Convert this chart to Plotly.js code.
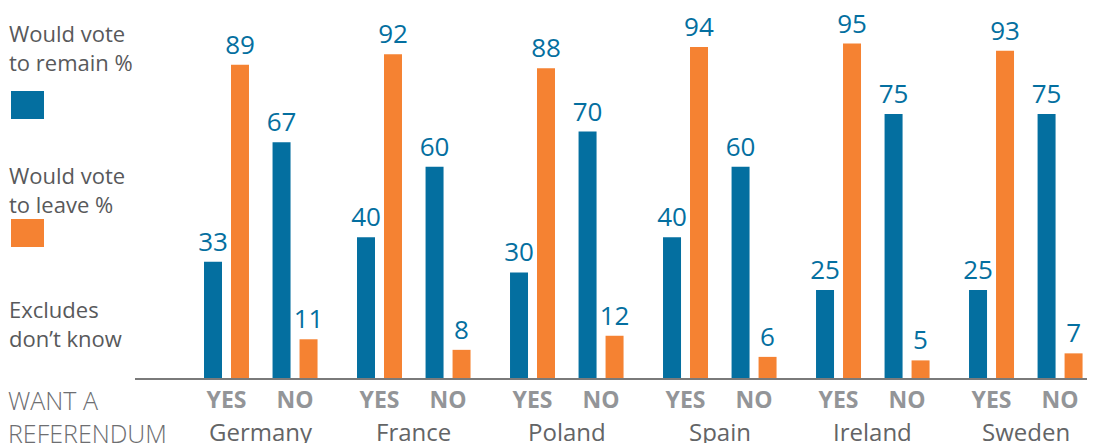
<!DOCTYPE html>
<html>
<head>
<meta charset="utf-8">
<script src="https://cdn.plot.ly/plotly-3.0.1.min.js"></script>
<style>html,body{margin:0;padding:0;background:#fff;}#chart{width:1097px;height:443px;}</style>
</head>
<body>
<div id="chart"></div>
<script>
// ---- data ----
var countries = ['Germany', 'France', 'Poland', 'Spain', 'Ireland', 'Sweden'];
var groups = ['YES', 'NO'];
var remainYes = [33, 40, 30, 40, 25, 25];
var leaveYes  = [89, 92, 88, 94, 95, 93];
var remainNo  = [67, 60, 70, 60, 75, 75];
var leaveNo   = [11, 8, 12, 6, 5, 7];

// ---- layout helpers ----
var W = 1097, H = 443;
var mL = 135, mR = 10, mT = 26, mB = 65;
var pw = W - mL - mR, ph = H - mT - mB;
function px(x) { return (x - mL) / pw; }
function py(y) { return (H - mB - y) / ph; }

var groupStep = 0.448;   // YES -> NO distance in country units
var barW = 0.1176;
var blue = '#046fa0', orange = '#f58232';

var xs = [], rem = [], lev = [], tickv = [], tickt = [];
for (var i = 0; i < countries.length; i++) {
  for (var j = 0; j < groups.length; j++) {
    var x = i + j * groupStep;
    xs.push(x);
    tickv.push(x);
    tickt.push(groups[j]);
    rem.push(j === 0 ? remainYes[i] : remainNo[i]);
    lev.push(j === 0 ? leaveYes[i] : leaveNo[i]);
  }
}

var labelFont = {family: 'Open Sans', size: 26, color: blue};
var traces = [
  {type: 'bar', name: 'Would vote to remain %', x: xs, y: rem, width: barW, offset: -0.147,
   marker: {color: blue}, text: rem.map(String), textposition: 'outside', textfont: labelFont,
   constraintext: 'none', cliponaxis: false, hoverinfo: 'y'},
  {type: 'bar', name: 'Would vote to leave %', x: xs, y: lev, width: barW, offset: 0.0294,
   marker: {color: orange}, text: lev.map(String), textposition: 'outside', textfont: labelFont,
   constraintext: 'none', cliponaxis: false, hoverinfo: 'y'}
];

var textGrey = '#58595b';
var annotations = [
  {text: 'Would vote<br>to remain %', x: px(7), y: py(16)},
  {text: 'Would vote<br>to leave %', x: px(7), y: py(158)},
  {text: 'Excludes<br>don\u2019t know', x: px(7), y: py(292)}
].map(function (a) {
  return {text: a.text, xref: 'paper', yref: 'paper', x: a.x, y: a.y, xanchor: 'left', yanchor: 'top',
          align: 'left', showarrow: false, font: {family: 'Open Sans', size: 22, color: textGrey}};
});
annotations.push({text: 'WANT A<br>REFERENDUM', xref: 'paper', yref: 'paper', x: px(6), y: py(381),
  xanchor: 'left', yanchor: 'top', align: 'left', showarrow: false,
  font: {family: 'Open Sans', size: 25, color: '#6d6e71', weight: 300}});
for (var c = 0; c < countries.length; c++) {
  annotations.push({text: countries[c], xref: 'x', yref: 'paper', x: c + groupStep / 2, y: py(413),
    xanchor: 'center', yanchor: 'top', showarrow: false,
    font: {family: 'Open Sans', size: 24, color: '#636466'}});
}

var shapes = [
  {type: 'rect', xref: 'paper', yref: 'paper', x0: px(11), x1: px(44), y0: py(119), y1: py(91),
   fillcolor: blue, line: {width: 0}},
  {type: 'rect', xref: 'paper', yref: 'paper', x0: px(11), x1: px(44), y0: py(247), y1: py(219),
   fillcolor: orange, line: {width: 0}}
];

var layout = {
  width: W, height: H,
  margin: {l: mL, r: mR, t: mT, b: mB, pad: 0},
  paper_bgcolor: '#fff', plot_bgcolor: '#fff',
  showlegend: false,
  barmode: 'overlay',
  xaxis: {range: [-0.598, 5.624], tickvals: tickv, ticktext: tickt, ticks: '', showgrid: false,
          zeroline: false, showline: true, linecolor: '#7a7a7a', linewidth: 2,
          tickfont: {family: 'Open Sans', size: 23, color: '#939598', weight: 'bold'}, fixedrange: true},
  yaxis: {range: [0, 100], visible: false, showgrid: false, zeroline: false, fixedrange: true},
  annotations: annotations,
  shapes: shapes
};

Plotly.newPlot('chart', traces, layout, {displayModeBar: false, staticPlot: true});
</script>
</body>
</html>
